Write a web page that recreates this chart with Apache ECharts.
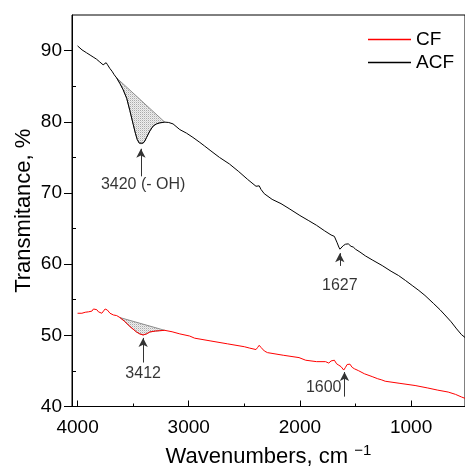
<!DOCTYPE html>
<html>
<head>
<meta charset="utf-8">
<script src="https://cdn.jsdelivr.net/npm/echarts@6/dist/echarts.min.js"></script>
<style>
 html,body{margin:0;padding:0;background:#fff;}
 #main{width:465px;height:473px;}
</style>
</head>
<body>
<div id="main"></div>
<script>
// ACF spectrum (wavenumber, transmittance %)
var acfWn = [4000,3960,3920,3880,3860,3830,3800,3785,3770,3755,3743,3730,3710,3690,3670,3648,3620,3590,3558,3530,3499,3480,3463,3445,3430,3410,3395,3379,3350,3320,3290,3260,3216,3180,3141,3080,3020,2962,2900,2858,2800,2724,2634,2550,2470,2395,2380,2366,2350,2321,2250,2170,2097,2000,1920,1850,1780,1720,1705,1690,1665,1650,1640,1625,1610,1590,1565,1540,1520,1500,1460,1411,1350,1260,1180,1113,1050,990,930,875,800,740,696,640,590,547,515];
var acfT  = [90.66,90.1,89.7,89.3,89.1,88.8,88.4,88.2,88.0,88.15,88.3,88.0,87.5,87.1,86.6,86.15,85.4,84.5,83.3,81.6,79.6,78.4,77.5,77.0,76.9,77.0,77.3,77.8,78.7,79.4,79.7,79.85,79.95,79.9,79.7,78.9,78.4,77.8,77.1,76.6,75.9,75.0,74.07,73.0,71.9,70.94,70.95,71.0,70.5,69.9,69.1,68.5,67.8,66.83,66.1,65.45,64.7,64.1,64.3,63.9,63.0,62.4,62.1,62.3,62.6,62.8,62.85,62.5,62.4,62.1,61.7,61.16,60.6,59.8,59.0,58.4,57.7,57.0,56.3,55.6,54.5,53.6,52.86,51.9,50.9,50.1,49.7];

// CF spectrum
var cfWn = [4000,3961,3931,3902,3886,3871,3857,3842,3827,3812,3797,3782,3767,3752,3743,3732,3723,3708,3692,3678,3663,3648,3633,3618,3580,3529,3470,3440,3410,3380,3350,3300,3260,3216,3150,3080,2992,2947,2800,2650,2500,2451,2395,2380,2366,2350,2320,2292,2150,2008,1948,1850,1769,1740,1720,1710,1690,1670,1650,1630,1606,1590,1575,1561,1550,1530,1510,1471,1420,1350,1300,1263,1233,1100,964,850,760,666,600,547,515];
var cfT  = [53.1,53.1,53.24,53.3,53.55,53.4,53.7,53.46,53.6,53.3,53.24,53.1,53.3,53.7,53.8,53.55,53.4,53.1,53.24,52.86,53.1,52.77,52.63,52.49,52.0,51.24,50.47,50.2,50.05,50.2,50.47,50.6,50.65,50.7,50.5,50.2,49.9,49.6,49.2,48.8,48.4,48.2,48.0,48.3,48.6,48.3,47.8,47.57,47.2,46.87,46.5,46.3,46.3,46.1,46.4,46.18,46.5,46.0,45.8,45.6,45.12,45.5,45.9,45.85,45.95,45.5,45.3,45.02,44.6,44.2,43.9,43.73,43.55,43.25,42.95,42.6,42.3,42.03,41.7,41.34,41.15];

var xTicks = [4000, 3000, 2000, 1000];
var xMinor = [3500, 2500, 1500];
var yTicks = [40, 50, 60, 70, 80, 90];
var yMinor = [45, 55, 65, 75, 85];

// shaded band ranges (start, end wavenumber)
var acfShade = [3648, 3216];
var cfShade = [3618, 3216];

// peak notes: text, series, wavenumber of arrow, value at the peak
var noteText = ['3420 (- OH)', '1627', '3412', '1600'];
var noteSeries = ['ACF', 'ACF', 'CF', 'CF'];
var noteWn = [3430, 1641, 3410, 1599];
var noteT = [76.9, 62.1, 50.05, 45.12];

var chart = echarts.init(document.getElementById('main'));

var pxUnit = 10 / 72.3; // T units per pixel
var noteStyle = [
  {gap: 5, len: 28, pos: 'bottom', dist: 0, align: 'left', off: [-40, 0]},
  {gap: 4, len: 13, pos: 'bottom', dist: 12, align: 'center', off: [0, 0]},
  {gap: 3, len: 25, pos: 'bottom', dist: 3, align: 'center', off: [0, 0]},
  {gap: 2, len: 25, pos: 'left', dist: 3, align: 'right', off: [0, -9]}
];

// stipple fill like the original hatch
var dots = document.createElement('canvas');
dots.width = 2; dots.height = 2;
var dc = dots.getContext('2d');
dc.fillStyle = '#eeeeee'; dc.fillRect(0, 0, 2, 2);
dc.fillStyle = '#aaaaaa'; dc.fillRect(0, 0, 1, 1);
dc.fillStyle = '#d6d6d6'; dc.fillRect(1, 1, 1, 1);

function pairs(wn, t) {
  return wn.map(function (w, i) { return [w, t[i]]; });
}

function shade(wn, t, range) {
  var pts = pairs(wn, t).filter(function (p) { return p[0] <= range[0] && p[0] >= range[1]; });
  return {
    type: 'custom',
    silent: true,
    z: 1,
    data: pts,
    renderItem: function (params, api) {
      if (params.dataIndex !== 0) return;
      var poly = pts.map(function (p) { return api.coord(p); });
      return {
        type: 'polygon',
        shape: {points: poly},
        style: {fill: {image: dots, repeat: 'repeat'}, stroke: '#8c8c8c', lineWidth: 1}
      };
    }
  };
}

function arrows(name) {
  var out = [];
  noteText.forEach(function (txt, i) {
    if (noteSeries[i] !== name) return;
    var s = noteStyle[i];
    var tip = noteT[i] - s.gap * pxUnit;
    var tail = tip - s.len * pxUnit;
    out.push([{coord: [noteWn[i], tail]}, {coord: [noteWn[i], tip]}]);
  });
  return out;
}

var notes = noteText.map(function (txt, i) {
  var s = noteStyle[i];
  var tail = noteT[i] - (s.gap + s.len) * pxUnit;
  return {
    value: [noteWn[i], tail],
    label: {
      show: true, formatter: txt, position: s.pos, distance: s.dist,
      align: s.align, offset: s.off, color: '#000', fontSize: 16,
      fontFamily: 'Liberation Sans, Arial, sans-serif'
    }
  };
});

var arrowMark = {
  silent: true,
  symbol: ['none', 'arrow'],
  symbolSize: [7, 9],
  lineStyle: {color: '#333', width: 1, type: 'solid'},
  label: {show: false},
  emphasis: {disabled: true},
  animation: false
};

function plain(v) { return String(v); }

option = {
  animation: false,
  textStyle: {fontFamily: 'Liberation Sans, Arial, sans-serif'},
  grid: {
    left: 72, top: 15, right: -1, bottom: 60,
    show: true, borderColor: '#000', borderWidth: 1
  },
  legend: {
    data: [
      {name: 'CF', itemStyle: {color: '#ff0000'}, lineStyle: {color: '#ff0000', width: 1.5}},
      {name: 'ACF', itemStyle: {color: '#000000'}, lineStyle: {color: '#000000', width: 1.5}}
    ],
    orient: 'vertical',
    right: 6, top: 25,
    itemWidth: 43, itemHeight: 14, itemGap: 4,
    itemStyle: {opacity: 0},
    textStyle: {fontSize: 19, color: '#000', fontFamily: 'Liberation Sans, Arial, sans-serif'}
  },
  xAxis: [{
    type: 'value',
    inverse: true,
    min: 515, max: 4050,
    axisLine: {show: true, lineStyle: {color: '#000', width: 1}},
    axisTick: {show: true, inside: true, length: 6, customValues: xTicks, lineStyle: {color: '#000'}},
    axisLabel: {customValues: xTicks, formatter: plain, color: '#000', fontSize: 19, margin: 12},
    splitLine: {show: false},
    name: 'Wavenumbers, cm {sup|\u22121}',
    nameLocation: 'middle',
    nameGap: 37,
    nameMoveOverlap: false,
    nameTextStyle: {
      fontSize: 22, color: '#000',
      rich: {sup: {fontSize: 15, color: '#000', verticalAlign: 'top', padding: [0, 0, 12, 0]}}
    }
  }, {
    type: 'value',
    inverse: true,
    min: 515, max: 4050,
    position: 'bottom',
    axisLine: {show: false},
    axisTick: {show: true, inside: true, length: 3, customValues: xMinor, lineStyle: {color: '#000'}},
    axisLabel: {show: false},
    splitLine: {show: false}
  }],
  yAxis: [{
    type: 'value',
    min: 40, max: 95,
    axisLine: {show: true, lineStyle: {color: '#000', width: 1}},
    axisTick: {show: true, inside: false, length: 8, customValues: yTicks, lineStyle: {color: '#000'}},
    axisLabel: {customValues: yTicks, formatter: plain, color: '#000', fontSize: 19, margin: 10},
    splitLine: {show: false},
    name: 'Transmitance, %',
    nameLocation: 'middle',
    nameGap: 37,
    nameMoveOverlap: false,
    nameTextStyle: {fontSize: 22, color: '#000'}
  }, {
    type: 'value',
    min: 40, max: 95,
    position: 'left',
    axisLine: {show: false},
    axisTick: {show: true, inside: true, length: 4, customValues: yMinor, lineStyle: {color: '#000'}},
    axisLabel: {show: false},
    splitLine: {show: false}
  }],
  series: [
    shade(acfWn, acfT, acfShade),
    shade(cfWn, cfT, cfShade),
    {
      name: 'CF', type: 'line', data: pairs(cfWn, cfT),
      symbol: 'none', z: 3, color: '#ff0000',
      lineStyle: {color: '#ff0000', width: 1},
      itemStyle: {color: '#ff0000'},
      markLine: Object.assign({data: arrows('CF')}, arrowMark)
    },
    {
      name: 'ACF', type: 'line', data: pairs(acfWn, acfT),
      symbol: 'none', z: 3, color: '#000000',
      lineStyle: {color: '#000', width: 1},
      itemStyle: {color: '#000'},
      markLine: Object.assign({data: arrows('ACF')}, arrowMark)
    },
    {
      name: 'notes', type: 'scatter', data: notes,
      symbolSize: 0, silent: true, z: 4
    }
  ]
};

chart.setOption(option);
</script>
</body>
</html>
